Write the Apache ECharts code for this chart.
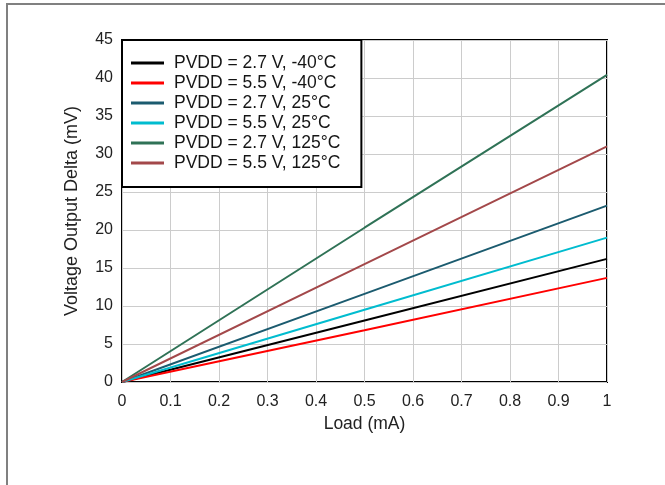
<!DOCTYPE html>
<html>
<head>
<meta charset="utf-8">
<script src="https://cdn.jsdelivr.net/npm/echarts@6/dist/echarts.min.js"></script>
<style>html,body{margin:0;padding:0;background:#fff}#c{width:665px;height:485px}</style>
</head>
<body>
<div id="c"></div>
<script>
var loadMA = [0, 0.5, 1];
var seriesNames = ['PVDD = 2.7 V, -40°C','PVDD = 5.5 V, -40°C','PVDD = 2.7 V, 25°C','PVDD = 5.5 V, 25°C','PVDD = 2.7 V, 125°C','PVDD = 5.5 V, 125°C'];
var v27m40 = [0, 8.1, 16.2];
var v55m40 = [0, 6.8, 13.7];
var v27p25 = [0, 11.6, 23.2];
var v55p25 = [0, 9.5, 19.0];
var v27p125 = [0, 20.3, 40.4];
var v55p125 = [0, 15.5, 31.0];
var colors = ['#000000','#ff0000','#1b5b6f','#00bccf','#2f7256','#a3484a'];
var xTicks = [0,0.1,0.2,0.3,0.4,0.5,0.6,0.7,0.8,0.9,1];
var yTicks = [0,5,10,15,20,25,30,35,40,45];

var allVals = [v27m40, v55m40, v27p25, v55p25, v27p125, v55p125];
var font = 'Liberation Sans, Arial, sans-serif';
var chart = echarts.init(document.getElementById('c'));
chart.setOption({
  animation: false,
  textStyle: {fontFamily: font},
  graphic: [{type:'rect', shape:{x:7,y:4,width:700,height:520}, style:{fill:'none', stroke:'#808080', lineWidth:2}, z:-10}],
  grid: {left:122, top:40, right:58, bottom:103, show:true, borderColor:'#000', borderWidth:2, backgroundColor:'#fff'},
  legend: {
    left:122, top:40, orient:'vertical',
    backgroundColor:'#fff', borderColor:'#000', borderWidth:2,
    padding:[13,21,14,9], itemGap:0, itemWidth:33, itemHeight:3, icon:'rect',
    textStyle:{fontSize:17.5, color:'#151515', fontFamily:font, lineHeight:20, padding:[0,0,0,5]},
    data: seriesNames
  },
  xAxis: {
    type:'value', min:0, max:1, interval:0.1,
    name:'Load (mA)', nameLocation:'middle', nameGap:33,
    nameTextStyle:{fontSize:17.5, color:'#222', fontFamily:font},
    axisLine:{show:false}, axisTick:{show:false},
    axisLabel:{fontSize:16, color:'#222', margin:12, fontFamily:font,
      formatter:function(v){var i=Math.round(v*10);return String(xTicks[i]);}},
    splitLine:{show:true, lineStyle:{color:'#cccccc', width:1}}
  },
  yAxis: {
    type:'value', min:0, max:45, interval:5,
    name:'Voltage Output Delta (mV)', nameLocation:'middle', nameGap:41,
    nameTextStyle:{fontSize:18, color:'#222', fontFamily:font},
    axisLine:{show:false}, axisTick:{show:false},
    axisLabel:{fontSize:16, color:'#222', margin:9, fontFamily:font,
      formatter:function(v){return String(yTicks[Math.round(v/5)]);}},
    splitLine:{show:true, lineStyle:{color:'#cccccc', width:1}}
  },
  series: seriesNames.map(function(n,i){
    return {name:n, type:'line', showSymbol:false, symbol:'none', color:colors[i],
      lineStyle:{width:2, color:colors[i]},
      data: loadMA.map(function(x,j){return [x, allVals[i][j]];})};
  })
});
</script>
</body>
</html>
